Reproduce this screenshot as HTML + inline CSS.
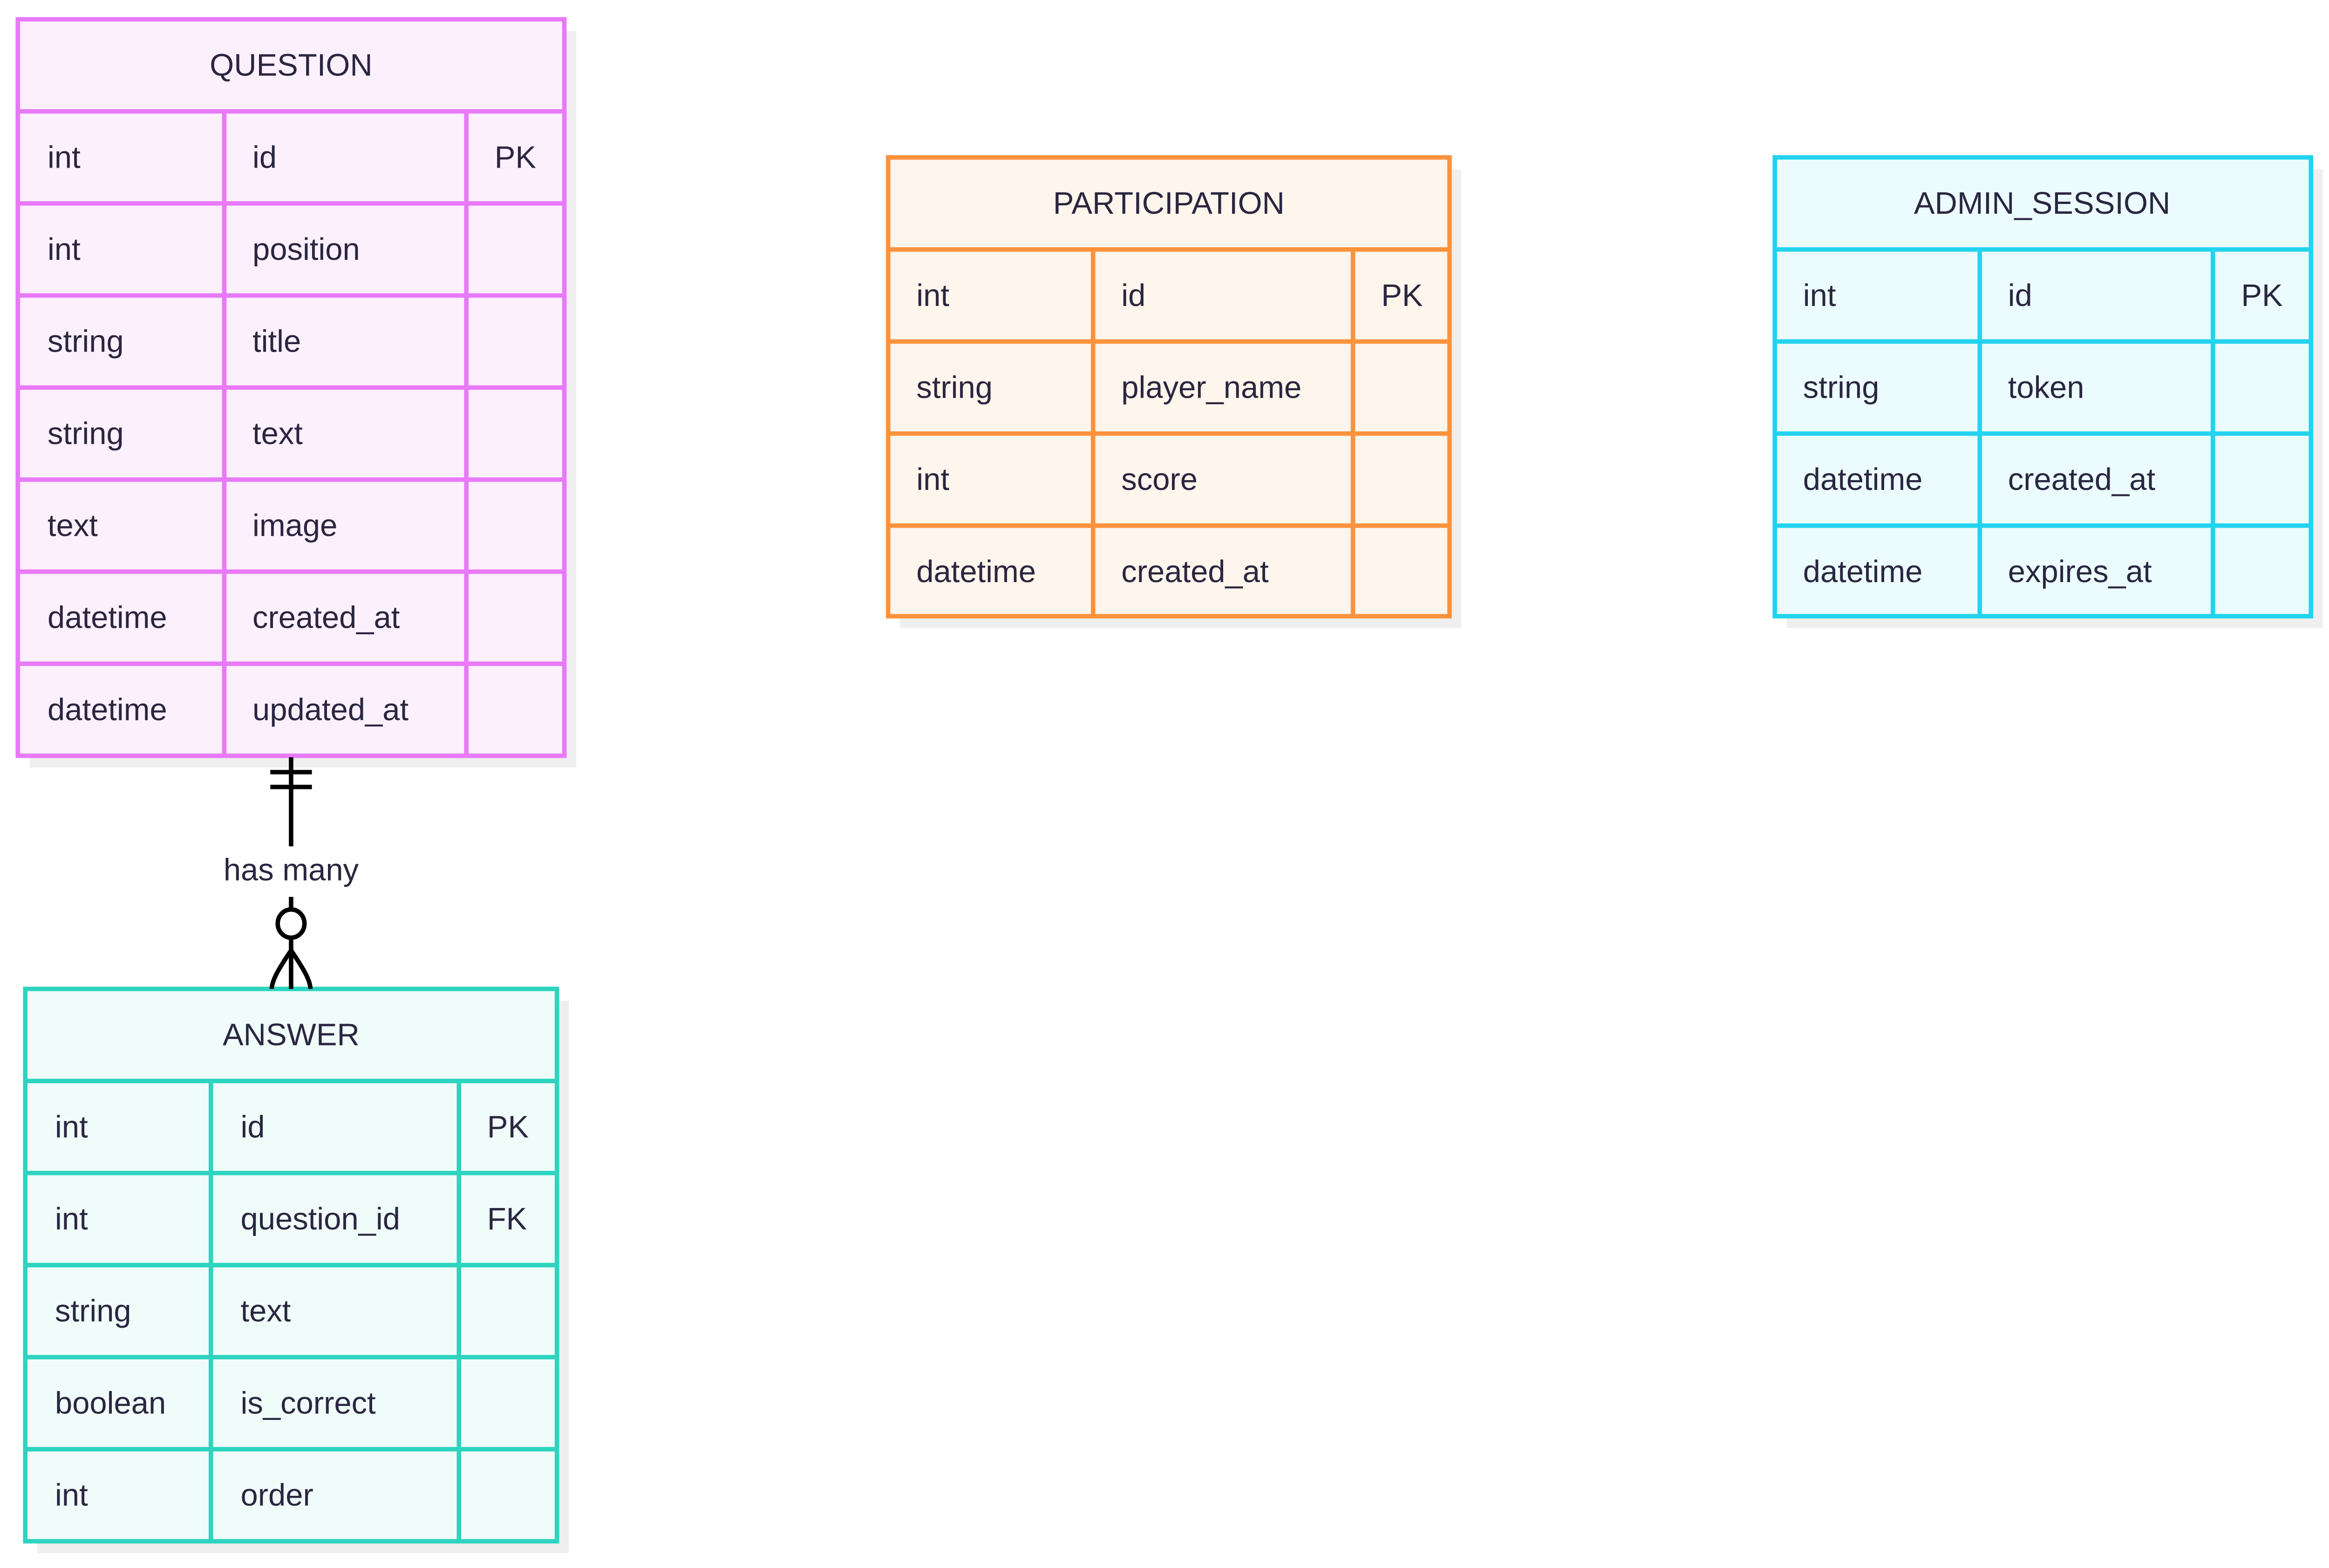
<!DOCTYPE html>
<html><head><meta charset="utf-8"><style>html,body{margin:0;padding:0;background:#fff}svg{display:block}</style></head>
<body>
<svg width="5022" height="3367" viewBox="0 0 1575 1056" preserveAspectRatio="xMinYMin meet" xmlns="http://www.w3.org/2000/svg" font-family="Liberation Sans, sans-serif" font-size="21" fill="#2a2640">
<rect width="1575" height="1056" fill="#fff"/>
<!-- shadows -->
<g fill="#efefef">
<rect x="20" y="21" width="368" height="496"/>
<rect x="606" y="114" width="378" height="309"/>
<rect x="1203" y="114" width="361" height="309"/>
<rect x="25" y="674" width="358" height="372"/>
</g>
<!-- QUESTION -->
<g stroke="#e879f9" stroke-width="3">
<rect x="12" y="13" width="368" height="496" fill="#fdf0fd"/>
<path d="M12 75H380M12 137H380M12 199H380M12 261H380M12 323H380M12 385H380M12 447H380M151 75V509M314 75V509" fill="none"/>
</g>
<g>
<text x="196" y="51" text-anchor="middle">QUESTION</text>
<text x="32" y="113">int</text><text x="170" y="113">id</text><text x="333" y="113">PK</text>
<text x="32" y="175">int</text><text x="170" y="175">position</text>
<text x="32" y="237">string</text><text x="170" y="237">title</text>
<text x="32" y="299">string</text><text x="170" y="299">text</text>
<text x="32" y="361">text</text><text x="170" y="361">image</text>
<text x="32" y="423">datetime</text><text x="170" y="423">created_at</text>
<text x="32" y="485">datetime</text><text x="170" y="485">updated_at</text>
</g>
<!-- PARTICIPATION -->
<g stroke="#fb923c" stroke-width="3">
<rect x="598" y="106" width="378" height="309" fill="#fef5ec"/>
<path d="M598 168H976M598 230H976M598 292H976M598 354H976M736 168V415M911 168V415" fill="none"/>
</g>
<g>
<text x="787" y="144" text-anchor="middle">PARTICIPATION</text>
<text x="617" y="206">int</text><text x="755" y="206">id</text><text x="930" y="206">PK</text>
<text x="617" y="268">string</text><text x="755" y="268">player_name</text>
<text x="617" y="330">int</text><text x="755" y="330">score</text>
<text x="617" y="392">datetime</text><text x="755" y="392">created_at</text>
</g>
<!-- ADMIN_SESSION -->
<g stroke="#22d3ee" stroke-width="3">
<rect x="1195" y="106" width="361" height="309" fill="#ecfcfe"/>
<path d="M1195 168H1556M1195 230H1556M1195 292H1556M1195 354H1556M1333 168V415M1490 168V415" fill="none"/>
</g>
<g>
<text x="1375" y="144" text-anchor="middle">ADMIN_SESSION</text>
<text x="1214" y="206">int</text><text x="1352" y="206">id</text><text x="1509" y="206">PK</text>
<text x="1214" y="268">string</text><text x="1352" y="268">token</text>
<text x="1214" y="330">datetime</text><text x="1352" y="330">created_at</text>
<text x="1214" y="392">datetime</text><text x="1352" y="392">expires_at</text>
</g>
<!-- ANSWER -->
<g stroke="#2dd4bf" stroke-width="3">
<rect x="17" y="666" width="358" height="372" fill="#effcf9"/>
<path d="M17 728H375M17 790H375M17 852H375M17 914H375M17 976H375M142 728V1038M309 728V1038" fill="none"/>
</g>
<g>
<text x="196" y="704" text-anchor="middle">ANSWER</text>
<text x="37" y="766">int</text><text x="162" y="766">id</text><text x="328" y="766">PK</text>
<text x="37" y="828">int</text><text x="162" y="828">question_id</text><text x="328" y="828">FK</text>
<text x="37" y="890">string</text><text x="162" y="890">text</text>
<text x="37" y="952">boolean</text><text x="162" y="952">is_correct</text>
<text x="37" y="1014">int</text><text x="162" y="1014">order</text>
</g>
<!-- relationship -->
<g stroke="#000" stroke-width="3" fill="none">
<path d="M196 510V570M182 520H210M182 530H210"/>
<path d="M196 604V613M196 631V666"/>
<ellipse cx="196" cy="622" rx="9" ry="9.5"/>
<path d="M196 640C188 652 183 660 183 666M196 640C204 652 209 660 209 666"/>
</g>
<text x="196" y="593" text-anchor="middle">has many</text>
</svg>
</body></html>
